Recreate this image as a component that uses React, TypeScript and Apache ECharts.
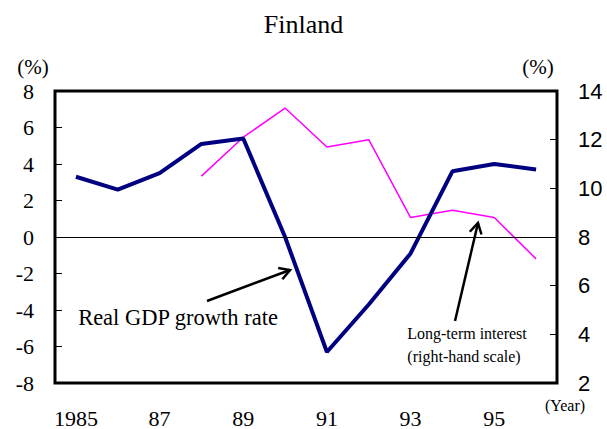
import React, { useEffect, useRef } from "react";
import * as echarts from "echarts";

const years = ["1985", "1986", "1987", "1988", "1989", "1990", "1991", "1992", "1993", "1994", "1995", "1996"];
const gdpGrowth = [3.3, 2.6, 3.5, 5.1, 5.4, 0.0, -6.3, -3.7, -0.9, 3.6, 4.0, 3.7];
const longTermRate: (number | null)[] = [null, null, null, 10.5, 12.1, 13.3, 11.7, 12.0, 8.8, 9.1, 8.8, 7.1];
const xTickLabels: Record<string, string> = { "1985": "1985", "1987": "87", "1989": "89", "1991": "91", "1993": "93", "1995": "95" };

const SERIF = "'Liberation Serif', 'Times New Roman', serif";
const SANS = "'Liberation Sans', Arial, sans-serif";

function arrow(x1: number, y1: number, x2: number, y2: number, len = 12, width = 2.5) {
  const dx = x2 - x1, dy = y2 - y1;
  const L = Math.hypot(dx, dy);
  const ux = -dx / L, uy = -dy / L;
  const c = Math.cos(Math.PI / 6), s = Math.sin(Math.PI / 6);
  const a1 = [x2 + len * (ux * c - uy * s), y2 + len * (ux * s + uy * c)];
  const a2 = [x2 + len * (ux * c + uy * s), y2 + len * (-ux * s + uy * c)];
  return [
    { type: "line", shape: { x1, y1, x2, y2 }, style: { stroke: "#000", lineWidth: width }, z: 100 },
    { type: "polyline", shape: { points: [a1, [x2, y2], a2] }, style: { stroke: "#000", lineWidth: width, fill: null }, z: 100 },
  ];
}

export default function App() {
  const ref = useRef<HTMLDivElement>(null);
  useEffect(() => {
    if (!ref.current) return;
    const chart = echarts.init(ref.current, null, { renderer: "svg" });
    chart.setOption({
      animation: false,
      backgroundColor: "#fff",
      title: {
        text: "Finland",
        left: "center",
        top: 6,
        textStyle: { fontFamily: SERIF, fontSize: 26, fontWeight: "normal", color: "#000" },
      },
      grid: {
        left: 55, right: 50, top: 91, bottom: 45,
        show: true, borderColor: "#000", borderWidth: 3, backgroundColor: "transparent",
      },
      xAxis: {
        type: "category",
        data: years,
        boundaryGap: true,
        axisLine: { show: false },
        axisTick: { show: false },
        splitLine: { show: false },
        axisLabel: {
          interval: 0,
          margin: 24,
          fontFamily: SERIF,
          fontSize: 22,
          color: "#000",
          formatter: (v: string) => xTickLabels[v] ?? "",
        },
      },
      yAxis: [
        {
          type: "value", min: -8, max: 8, interval: 2, position: "left",
          name: "(%)", nameLocation: "end", nameGap: 14,
          nameTextStyle: { fontFamily: SERIF, fontSize: 21, color: "#000", align: "center", padding: [0, 0, 0, -44] },
          axisLine: { show: false },
          axisTick: { show: true, inside: true, length: 7, lineStyle: { color: "#000", width: 1 } },
          splitLine: { show: false },
          axisLabel: { margin: 21, fontFamily: SERIF, fontSize: 22, color: "#000" },
        },
        {
          type: "value", min: 2, max: 14, interval: 2, position: "right",
          name: "(%)", nameLocation: "end", nameGap: 14,
          nameTextStyle: { fontFamily: SERIF, fontSize: 21, color: "#000", align: "center", padding: [0, 38, 0, 0] },
          axisLine: { show: false },
          axisTick: { show: true, inside: true, length: 7, lineStyle: { color: "#000", width: 1 } },
          splitLine: { show: false },
          axisLabel: { margin: 21, fontFamily: SANS, fontSize: 22, color: "#000" },
        },
      ],
      series: [
        {
          name: "Long-term interest",
          type: "line",
          yAxisIndex: 1,
          data: longTermRate,
          symbol: "none",
          connectNulls: false,
          lineStyle: { color: "#FF00FF", width: 1.5 },
          z: 2,
        },
        {
          name: "Real GDP growth rate",
          type: "line",
          yAxisIndex: 0,
          data: gdpGrowth,
          symbol: "none",
          lineStyle: { color: "#000080", width: 4 },
          z: 3,
          markLine: {
            silent: true,
            symbol: ["none", "none"],
            label: { show: false },
            lineStyle: { color: "#000", width: 1, type: "solid" },
            data: [{ yAxis: 0 }],
          },
        },
      ],
      graphic: [
        {
          type: "text", x: 565, y: 405,
          style: { text: "(Year)", fontFamily: SERIF, fontSize: 16, fill: "#000", align: "center", verticalAlign: "middle" },
        },
        {
          type: "text", x: 178, y: 317,
          style: { text: "Real GDP growth rate", fontFamily: SERIF, fontSize: 22.5, fill: "#000", align: "center", verticalAlign: "middle" },
        },
        {
          type: "text", x: 467, y: 333,
          style: { text: "Long-term interest", fontFamily: SERIF, fontSize: 16, fill: "#000", align: "center", verticalAlign: "middle" },
        },
        {
          type: "text", x: 464, y: 356,
          style: { text: "(right-hand scale)", fontFamily: SERIF, fontSize: 16, fill: "#000", align: "center", verticalAlign: "middle" },
        },
        ...arrow(207, 301, 290, 270),
        ...arrow(455, 321, 478, 223),
      ],
    });
    return () => chart.dispose();
  }, []);
  return <div ref={ref} style={{ position: "fixed", left: 0, top: 0, width: 607, height: 429 }} />;
}
